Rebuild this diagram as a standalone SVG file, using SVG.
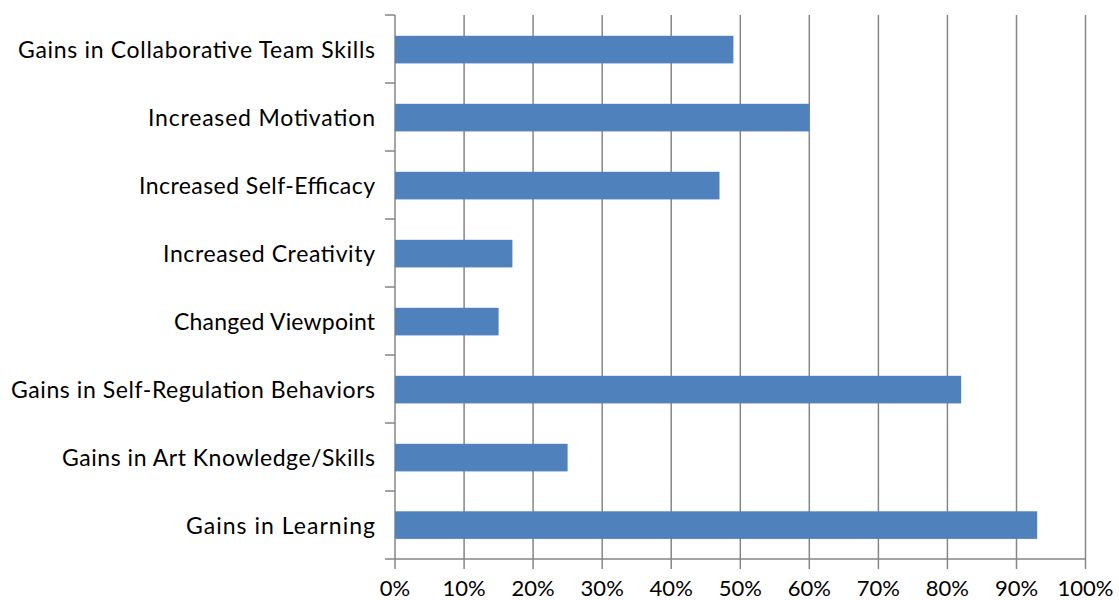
<svg xmlns="http://www.w3.org/2000/svg" width="1119" height="600" viewBox="0 0 1119 600">
<style>
.grid{stroke:#868686;stroke-width:1.5;fill:none}
.bar{fill:#4f81bd}
.lbl{font-family:Lato,"Liberation Sans",sans-serif;font-size:23px;fill:#000;text-anchor:end}
.tk{font-family:Lato,"Liberation Sans",sans-serif;font-size:22px;fill:#000;text-anchor:middle}
</style>
<rect width="1119" height="600" fill="#fff"/>
<g id="gridlines" class="grid">
<path d="M464.1,15V569M533.1,15V569M602.2,15V569M671.2,15V569M740.3,15V569M809.3,15V569M878.4,15V569M947.4,15V569M1016.5,15V569M1085.5,15V569"/>
</g>
<g id="axes" class="grid">
<path d="M395,15V569M385,559H1085.5"/>
<path d="M385,15H395M385,83H395M385,151H395M385,219H395M385,287H395M385,355H395M385,423H395M385,491H395"/>
</g>
<g id="bars">
<g id="bar-collab"><rect class="bar" x="395" y="35.8" width="338.4" height="27.6"/><text class="lbl" x="375" y="57.5" textLength="357" lengthAdjust="spacing">Gains in Collaborative Team Skills</text></g>
<g id="bar-motivation"><rect class="bar" x="395" y="103.8" width="414.3" height="27.6"/><text class="lbl" x="375" y="125.5" textLength="227" lengthAdjust="spacing">Increased Motivation</text></g>
<g id="bar-selfefficacy"><rect class="bar" x="395" y="171.8" width="324.5" height="27.6"/><text class="lbl" x="375" y="193.5" textLength="236" lengthAdjust="spacing">Increased Self-Efficacy</text></g>
<g id="bar-creativity"><rect class="bar" x="395" y="239.8" width="117.4" height="27.6"/><text class="lbl" x="375" y="261.5" textLength="212" lengthAdjust="spacing">Increased Creativity</text></g>
<g id="bar-viewpoint"><rect class="bar" x="395" y="307.8" width="103.6" height="27.6"/><text class="lbl" x="375" y="329.5" textLength="201" lengthAdjust="spacing">Changed Viewpoint</text></g>
<g id="bar-selfreg"><rect class="bar" x="395" y="375.8" width="566.2" height="27.6"/><text class="lbl" x="375" y="397.5" textLength="364" lengthAdjust="spacing">Gains in Self-Regulation Behaviors</text></g>
<g id="bar-art"><rect class="bar" x="395" y="443.8" width="172.6" height="27.6"/><text class="lbl" x="375" y="465.5" textLength="313" lengthAdjust="spacing">Gains in Art Knowledge/Skills</text></g>
<g id="bar-learning"><rect class="bar" x="395" y="511.3" width="642.2" height="27.6"/><text class="lbl" x="375" y="533.5" textLength="189" lengthAdjust="spacing">Gains in Learning</text></g>
</g>
<g id="xlabels">
<text class="tk" x="395" y="596">0%</text>
<text class="tk" x="464.1" y="596">10%</text>
<text class="tk" x="533.1" y="596">20%</text>
<text class="tk" x="602.2" y="596">30%</text>
<text class="tk" x="671.2" y="596">40%</text>
<text class="tk" x="740.3" y="596">50%</text>
<text class="tk" x="809.3" y="596">60%</text>
<text class="tk" x="878.4" y="596">70%</text>
<text class="tk" x="947.4" y="596">80%</text>
<text class="tk" x="1016.5" y="596">90%</text>
<text class="tk" x="1085.5" y="596">100%</text>
</g>
</svg>
